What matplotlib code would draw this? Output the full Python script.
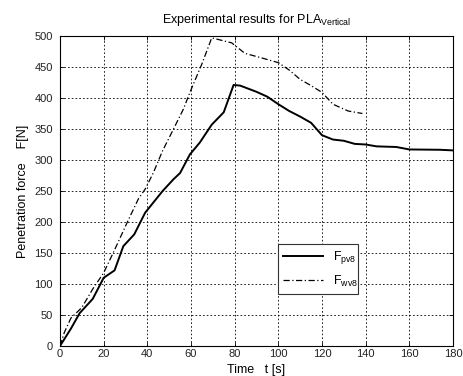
import matplotlib
matplotlib.use("Agg")
import matplotlib.pyplot as plt

plt.rcParams['font.family'] = ['Liberation Sans', 'DejaVu Sans']
plt.rcParams['mathtext.fontset'] = 'custom'
plt.rcParams['mathtext.rm'] = 'Liberation Sans'
plt.rcParams['mathtext.it'] = 'Liberation Sans'

t_pv8 = [0, 5, 9, 15, 20, 25, 29, 34, 39, 47, 52, 55, 59.5, 64, 69.5, 75, 79.5, 82.5,
         90, 95, 100, 105, 110, 115, 120, 125, 130, 135, 140, 145, 154, 160, 174, 180]
F_pv8 = [0, 28, 53, 76, 110, 122, 161, 180, 215, 250, 269, 279, 309, 328, 357, 377, 421, 420,
         410, 402, 390, 379, 370, 360, 340, 333, 331, 326, 325, 322, 321, 317, 316.5, 315.5]

t_wv8 = [0, 2, 5, 10, 15, 20, 25, 31, 36, 39, 42.7, 47, 52, 56.5, 59.5, 65, 69.5,
         78.6, 84.7, 92, 100, 105, 110, 115, 120, 125, 132, 138.5]
F_wv8 = [0, 22, 45, 62, 92, 118, 155, 201, 238, 253, 279, 315, 350, 382, 409, 455, 497,
         489, 472, 465, 457, 445, 430, 420, 409, 390, 379, 375]

x_ticks = [0, 20, 40, 60, 80, 100, 120, 140, 160, 180]
y_ticks = [0, 50, 100, 150, 200, 250, 300, 350, 400, 450, 500]

fig = plt.figure(figsize=(4.64, 3.76), dpi=100)
ax = fig.add_axes([60/464, 1-346/376, (453-60)/464, (346-36)/376])

ax.plot(t_pv8, F_pv8, color='black', lw=1.4, label=r'F$_{\mathrm{pv8}}$')
ax.plot(t_wv8, F_wv8, color='black', lw=0.9, linestyle=(0, (5, 2, 1, 2)), label=r'F$_{\mathrm{wv8}}$')

ax.set_xlim(0, 180)
ax.set_ylim(0, 500)
ax.set_xticks(x_ticks)
ax.set_yticks(y_ticks)
ax.tick_params(direction='in', length=3, width=0.6, labelsize=8, top=True, right=True,
               colors='black', labelcolor='#222222')
ax.tick_params(axis='x', pad=2)
ax.tick_params(axis='y', pad=5)
ax.grid(True, color='black', linestyle=(0, (2, 2.5)), lw=0.6)
for s in ax.spines.values():
    s.set_linewidth(0.8)

ax.set_title(r'Experimental results for PLA$_{\mathrm{Vertical}}$', fontsize=9, pad=9)
ax.set_xlabel('Time   t [s]', fontsize=9, labelpad=4)
ax.set_ylabel('Penetration force    F[N]', fontsize=9, labelpad=4)

leg = ax.legend(loc='lower left', bbox_to_anchor=(0.555, 0.168, 0.203, 0.159), mode='expand',
                borderaxespad=0, fancybox=False, framealpha=1, edgecolor='#333333',
                fontsize=9, handlelength=3.2, labelspacing=0.6)
leg.get_frame().set_linewidth(0.8)

fig.savefig('out.png', dpi=100)
